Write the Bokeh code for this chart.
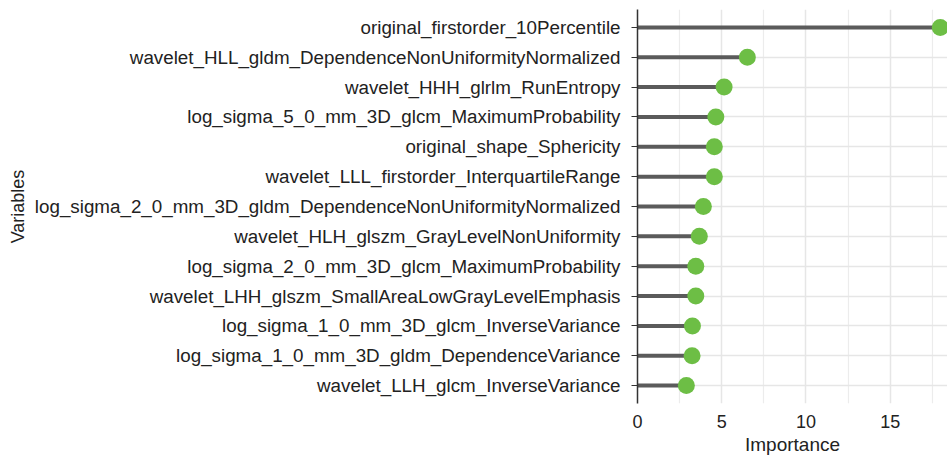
from bokeh.plotting import figure
from bokeh.models import FactorRange, Range1d, ColumnDataSource, FixedTicker
from bokeh.embed import file_html
from bokeh.resources import INLINE

# Variables, top to bottom as in the reference
variables = [
    "original_firstorder_10Percentile",
    "wavelet_HLL_gldm_DependenceNonUniformityNormalized",
    "wavelet_HHH_glrlm_RunEntropy",
    "log_sigma_5_0_mm_3D_glcm_MaximumProbability",
    "original_shape_Sphericity",
    "wavelet_LLL_firstorder_InterquartileRange",
    "log_sigma_2_0_mm_3D_gldm_DependenceNonUniformityNormalized",
    "wavelet_HLH_glszm_GrayLevelNonUniformity",
    "log_sigma_2_0_mm_3D_glcm_MaximumProbability",
    "wavelet_LHH_glszm_SmallAreaLowGrayLevelEmphasis",
    "log_sigma_1_0_mm_3D_glcm_InverseVariance",
    "log_sigma_1_0_mm_3D_gldm_DependenceVariance",
    "wavelet_LLH_glcm_InverseVariance",
]
importance = [17.97, 6.52, 5.14, 4.65, 4.56, 4.56, 3.91, 3.67, 3.46, 3.46, 3.26, 3.24, 2.90]
x_ticks = [0, 5, 10, 15]

FONT = "Liberation Sans"

src = ColumnDataSource(dict(var=variables, imp=importance, zero=[0] * len(variables)))

p = figure(
    width=947, height=458,
    y_range=FactorRange(*list(reversed(variables)), range_padding=0.1, range_padding_units="absolute"),
    x_range=Range1d(0, 18.4),
    output_backend="svg", toolbar_location=None,
    min_border_left=637, min_border_right=0, min_border_top=9, min_border_bottom=55,
    background_fill_color="white", border_fill_color="white",
)
p.outline_line_color = None

p.segment(x0="zero", y0="var", x1="imp", y1="var", source=src, line_color="#5b5b5b", line_width=4)
p.scatter(x="imp", y="var", source=src, size=17, fill_color="#6dbe45", line_color=None)

# grids
p.xgrid.ticker = FixedTicker(ticks=x_ticks, minor_ticks=[2.5, 7.5, 12.5, 17.5])
p.xgrid.grid_line_color = "#e6e6e6"
p.xgrid.grid_line_width = 1.5
p.xgrid.minor_grid_line_color = "#ececec"
p.xgrid.minor_grid_line_width = 1.2
p.ygrid.grid_line_color = "#e6e6e6"
p.ygrid.grid_line_width = 1.5

# x axis
p.xaxis.ticker = FixedTicker(ticks=x_ticks)
p.xaxis.axis_line_color = None
p.xaxis.major_tick_line_color = None
p.xaxis.minor_tick_line_color = None
p.xaxis.major_label_text_font = FONT
p.xaxis.major_label_text_font_size = "18px"
p.xaxis.major_label_text_color = "#222222"
p.xaxis.major_label_standoff = 5
p.xaxis.axis_label = "Importance"
p.xaxis.axis_label_text_font = FONT
p.xaxis.axis_label_text_font_size = "19px"
p.xaxis.axis_label_text_font_style = "normal"
p.xaxis.axis_label_text_color = "#222222"
p.xaxis.axis_label_standoff = 3

# y axis
p.yaxis.axis_line_color = "#333333"
p.yaxis.axis_line_width = 1.5
p.yaxis.major_tick_line_color = "#333333"
p.yaxis.major_tick_out = 6
p.yaxis.major_tick_in = 0
p.yaxis.major_label_text_font = FONT
p.yaxis.major_label_text_font_size = "18.8px"
p.yaxis.major_label_text_color = "#222222"
p.yaxis.major_label_standoff = 11
p.yaxis.axis_label = "Variables"
p.yaxis.axis_label_text_font = FONT
p.yaxis.axis_label_text_font_size = "18px"
p.yaxis.axis_label_text_font_style = "normal"
p.yaxis.axis_label_text_color = "#222222"
p.yaxis.axis_label_standoff = 4

open("out.html", "w").write(file_html(p, INLINE))
